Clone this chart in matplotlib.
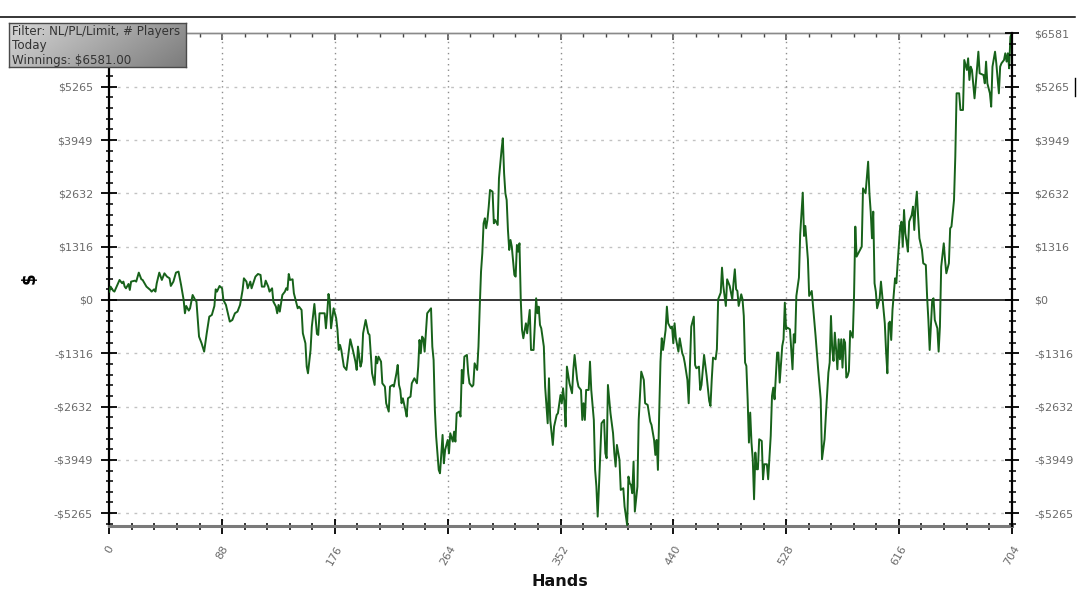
import matplotlib
matplotlib.use('Agg')
import matplotlib.pyplot as plt
import numpy as np
from matplotlib.lines import Line2D
from matplotlib.ticker import MultipleLocator, FixedLocator
from matplotlib.colors import LinearSegmentedColormap

# ---------------- data ----------------
hands = [
    0, 1, 3, 4, 8, 10, 11, 12, 13, 15, 16, 17, 20, 21, 23, 25, 26, 29, 32, 33,
    35, 36, 37, 39, 41, 43, 45, 47, 48, 50, 52, 54, 56, 58, 59, 60, 62, 63, 65, 67,
    68, 70, 72, 74, 76, 78, 80, 82, 83, 84, 86, 88, 89, 91, 94, 96, 98, 100, 102, 104,
    105, 107, 108, 110, 111, 114,
    116, 118, 119, 121, 122, 124, 125, 127, 128, 130,
    131, 132, 133, 135, 137, 138, 139, 140, 141, 143,
    144, 145, 147, 148, 150, 151, 153, 154, 155, 157,
    158, 160, 162, 163, 164, 166, 168, 169, 170, 171,
    172, 173, 175, 176, 177, 178, 179, 180, 181, 183,
    185, 188, 190, 192, 193, 194, 196, 197, 198, 200,
    202, 203, 205, 207, 208, 209, 210, 212, 213, 215,
    216, 218, 219, 221, 222, 224, 225, 226, 227, 228,
    229, 231,
    232, 233, 235, 236, 238, 240, 241, 242, 243, 244,
    245, 246, 248, 249, 251, 252, 253, 254, 255, 257,
    258, 260, 261, 262, 264, 265, 266, 268, 269, 270,
    271, 273, 274, 275, 276, 277, 279, 280, 281, 283,
    284, 285, 287, 288, 289, 290, 291, 292, 293, 294,
    295, 296, 297, 299, 300, 301, 303, 304, 306, 307,
    308, 309, 310, 311, 312, 313, 314, 316, 317, 318,
    319, 320, 321, 322, 323, 325, 326, 328, 329, 331,
    333, 334, 335, 336, 337, 339, 340, 342, 343, 344,
    346, 347,
    349, 350, 352, 353, 354, 355, 356, 357, 358, 359,
    361, 362, 363, 365, 366, 368, 369, 370, 371, 372,
    374, 375, 376, 378, 379, 380, 381, 382, 384, 386,
    387, 388, 389, 391, 393, 394, 395, 396, 398, 399,
    401, 402, 404, 405, 406, 407, 408, 409, 410, 412,
    413, 414, 415, 417, 418, 420, 422, 423, 425, 426,
    427, 428, 429, 430, 431, 432, 434, 435, 436, 438,
    439, 440, 441, 442, 444, 445, 447, 448, 449, 451,
    452, 453, 454, 456, 457, 458, 460, 461, 462, 464,
    466, 468, 469, 470, 471, 473, 474, 475, 477, 478,
    479, 481, 482, 483, 484, 486, 487, 488, 489, 490,
    491, 493, 494, 495, 496, 497, 498, 499, 500, 501,
    502, 503, 504, 505, 506, 507, 509, 510, 511, 513,
    514, 516, 517, 518, 519, 521, 522, 523, 525, 526,
    527, 528, 529, 531, 532, 533, 534, 535, 536, 538,
    539, 541, 542, 543, 545, 546, 548, 549, 551, 553,
    555, 556, 558, 559, 561, 562, 563, 564, 565, 566,
    567, 568, 569, 570, 571, 572, 573, 574, 575, 576,
    577, 578, 580, 581,
    582, 583, 585, 587, 588, 590, 592, 593, 594, 595,
    596, 597, 598, 599, 601, 602, 604, 605, 606, 607,
    608, 609, 610, 611, 613, 614, 615, 617, 618, 619,
    620, 621, 622, 623, 624, 626, 627, 628, 629, 630,
    631, 632, 634, 635, 637, 638, 639, 640, 642, 643,
    644, 646, 647, 648, 649, 651, 652, 653, 655, 656,
    657, 659, 660, 661, 663, 664, 666, 667, 669, 670,
    671, 672, 673, 675, 676, 678, 679, 682, 683, 684,
    685, 687, 688, 689, 691, 692, 694, 695, 696, 698,
    699, 700, 701, 702, 703, 704,
]

winnings = [
    206, 329, 230, 206, 494, 412, 453, 329, 288, 395, 247, 453, 477, 453, 675, 510, 494, 329, 247, 206,
    263, 206, 412, 675, 494, 658, 576, 535, 346, 453, 675, 700, 370, 0, -329, -148, -263, -206, 123, 0,
    -41, -905, -1070, -1276, -823, -412, -370, -148, 263, 206, 346, 288, 0, -123, -535, -494, -329, -288, -123, 247,
    535, 453, 288, 453, 288, 576,
    642, 617, 329, 329, 477, 329, 206, 288, -41, -165,
    -329, -123, -288, 123, 206, 288, 247, 642, 494, 510,
    165, 41, -206, -165, -247, -823, -1070, -1646, -1811, -1235,
    -658, -99, -840, -864, -329, -329, -329, -700, -329, 148,
    -41, -700, -206, -329, -453, -741, -1235, -1111, -1235, -1646,
    -1728, -971, -1235, -1523, -1728, -1152, -1646, -1523, -823, -494,
    -823, -864, -1811, -2099, -1399, -1564, -1399, -1523, -2058, -2140,
    -2551, -2757, -2140, -2099, -2140, -1811, -1605, -2099, -2222, -2551,
    -2428, -2716,
    -2880, -2428, -2387, -2058, -1934, -2058, -1646, -988, -1317, -905,
    -946, -1276, -329, -288, -206, -1152, -1481, -2716, -3374, -4197,
    -4280, -3333, -4033, -3703, -3457, -3786, -3292, -3498, -3251, -3498,
    -2798, -2757, -2880, -1728, -2058, -1399, -1358, -1811, -2058, -2140,
    -2099, -1564, -1728, -1152, -165, 700, 1152, 1893, 2017, 1770,
    1975, 2304, 2716, 2675, 1893, 1975, 1852, 3004, 3704, 3992,
    3127, 2634, 2469, 1728, 1235, 1481, 1317, 617, 576, 1358,
    1193, 1399, 0, -741, -946, -576, -823, -247, -1235, -1235,
    41, -329, -165, -617, -700, -1152, -2140, -3045, -1934, -2963,
    -3580, -3127,
    -2839, -2798, -2346, -2551, -2181, -2510, -3127, -1646, -1852, -2058,
    -2304, -1728, -1358, -1975, -2140, -2222, -2963, -2551, -2963, -2222,
    -2222, -1523, -2222, -2963, -4197, -4609, -5350, -4609, -3045, -2963,
    -3786, -3909, -2099, -2798, -3292, -3786, -4115, -3580, -3950, -4691,
    -4650, -5103, -5560, -4362, -4527, -4568, -4773, -3992, -5226, -4609,
    -2963, -2346, -1770, -1975, -2551, -2592, -3004, -3086, -3457, -3827,
    -3457, -4197, -2798, -1523, -946, -1235, -741, -165, -576, -700,
    -658, -1070, -576, -946, -1276, -946, -1317, -1399, -1564, -1975,
    -2551, -1605, -658, -412, -1605, -1687, -1646, -2222, -2099, -1358,
    -1876, -2494, -2617, -1959, -1424, -1465, -1218, 16, 181, 798,
    346, -148, 510, 428, 346, 16, 428, 757, 263, 222,
    -148, 140, 16, -395, -1547, -1630, -2453, -3522, -2782, -3522,
    -3934, -4922, -3769, -4181, -4181, -3440, -3481, -4428, -4057, -4057,
    -4428, -3358, -2370, -2165, -2453, -1300, -1300, -2041, -1136, -971,
    -66, -724, -683, -724, -1218, -1712, -848, -1053, 99, 551,
    1621, 2650, 1580, 1827, 1004, 99, 222, -148, -889, -1712,
    -2453, -3934, -3440, -2864, -1794, -1547, -395, -1218, -1506, -807,
    -1218, -1712, -971, -1465, -971, -1671, -971, -1053, -1918, -1876,
    -1753, -765, -930, 99,
    1811, 1070, 1193, 1317, 2757, 2634, 3415, 2634, 2181, 1523,
    2181, 412, 206, -206, 41, 453, -247, -576, -1276, -1811,
    -576, -535, -988, -247, 535, 412, 905, 1811, 1934, 1317,
    2222, 1646, 1440, 1193, 1934, 2099, 2304, 1728, 2346, 2675,
    2058, 1523, 1235, 905, 864, 82, -494, -1235, 0, 41,
    -494, -700, -1276, -658, 823, 1399, 988, 658, 905, 1770,
    1811, 2469, 3539, 5103, 5103, 4691, 4691, 5926, 5679, 5967,
    5432, 5761, 5679, 4979, 5350, 6131, 5597, 5555, 5350, 5885,
    5350, 5103, 4773, 5761, 6131, 5843, 5103, 5761, 5843, 5926,
    6091, 5885, 6091, 5720, 6500, 6581,
]
assert len(hands) == len(winnings)

x_tick_values = [0, 88, 176, 264, 352, 440, 528, 616, 704]
x_tick_labels = ['0', '88', '176', '264', '352', '440', '528', '616', '704']
y_step = 6581 / 5
y_tick_values = [k * y_step for k in range(-4, 6)]
y_tick_labels = ['-$5265', '-$3949', '-$2632', '-$1316', '$0',
                 '$1316', '$2632', '$3949', '$5265', '$6581']
legend_lines = ['Filter: NL/PL/Limit, # Players', 'Today', 'Winnings: $6581.00']

# ---------------- figure ----------------
W, H = 1077, 591
fig = plt.figure(figsize=(W / 100, H / 100), dpi=100)
fig.patch.set_facecolor('white')
L, R, T, B = 109.3, 1011.7, 33.3, 526.0
ax = fig.add_axes([L / W, 1 - B / H, (R - L) / W, (B - T) / H])
YLIM = (-5582, 6585)
ax.set_xlim(0, 704)
ax.set_ylim(*YLIM)

# grid
for yv in y_tick_values:
    if abs(yv) > 1 and yv < 6500:
        ax.axhline(yv, color='#c2c2c2', lw=1.0, ls=(0, (2, 4)), zorder=1)
for xv in x_tick_values[1:-1]:
    ax.axvline(xv, color='#8c8c8c', lw=1.0, ls=(0, (1, 3)), zorder=1)
ax.axhline(0, color='black', lw=1.1, zorder=2)

ax.plot(hands, winnings, color='#17621a', lw=1.4, zorder=3)

# ticks
px = 0.72
lab_color = '#6a6a6a'
ax.yaxis.set_major_locator(FixedLocator(y_tick_values))
# the top label on the left is hidden behind the filter box in the reference
ax.set_yticklabels(y_tick_labels[:-1] + [''])
ax.yaxis.set_minor_locator(MultipleLocator(y_step / 5))
ax.xaxis.set_major_locator(FixedLocator(x_tick_values))
ax.set_xticklabels(x_tick_labels, rotation=60, ha='center', va='top')
ax.xaxis.set_minor_locator(MultipleLocator(17.6))

ax.tick_params(axis='y', which='major', direction='inout', length=16 * px, width=1.3,
               left=True, right=False, labelleft=True, labelright=False,
               labelsize=8, labelcolor=lab_color, pad=6)
ax.tick_params(axis='y', which='minor', direction='inout', length=7 * px, width=1.1,
               left=True, right=False)
ax.tick_params(axis='x', which='major', direction='inout', length=15 * px, width=1.3,
               bottom=True, top=False, labelsize=8, labelcolor=lab_color, pad=7.5)
ax.tick_params(axis='x', which='minor', direction='inout', length=7 * px, width=1.1,
               bottom=True, top=False)

# right axis (same scale, own label padding)
ax2 = ax.twinx()
ax2.set_ylim(*YLIM)
ax2.yaxis.set_major_locator(FixedLocator(y_tick_values))
ax2.set_yticklabels(y_tick_labels)
ax2.yaxis.set_minor_locator(MultipleLocator(y_step / 5))
ax2.tick_params(axis='y', which='major', direction='inout', length=14 * px, width=1.3,
                labelsize=8, labelcolor=lab_color, pad=11)
ax2.tick_params(axis='y', which='minor', direction='inout', length=7 * px, width=1.1)
for s in ['left', 'top', 'bottom']:
    ax2.spines[s].set_visible(False)
ax2.spines['right'].set_color('black')
ax2.spines['right'].set_linewidth(1.6)

sec = ax.secondary_xaxis('top')
sec.xaxis.set_major_locator(FixedLocator(x_tick_values))
sec.xaxis.set_minor_locator(MultipleLocator(17.6))
sec.tick_params(axis='x', which='major', direction='in', length=7 * px, width=1.1,
                labeltop=False, color='#444444')
sec.tick_params(axis='x', which='minor', direction='in', length=4 * px, width=1.0,
                color='#444444')
sec.spines['top'].set_color('#8a8a8a')
sec.spines['top'].set_linewidth(1.0)

ax.spines['left'].set_color('black')
ax.spines['left'].set_linewidth(1.6)
ax.spines['right'].set_visible(False)
ax.spines['bottom'].set_color('#7a7a7a')
ax.spines['bottom'].set_linewidth(2.2)
ax.spines['top'].set_color('#8a8a8a')
ax.spines['top'].set_linewidth(1.0)

# axis titles
fig.text(30 / W, 1 - 278 / H, '$', rotation=90, fontsize=12, fontweight='bold',
         ha='center', va='center', color='black')
fig.text(560 / W, 1 - 586.5 / H, 'Hands', fontsize=11.5, fontweight='bold',
         ha='center', va='baseline', color='#111111')

# top rule and small mark
fig.add_artist(Line2D([0, 1075 / W], [1 - 16.7 / H] * 2, color='black', lw=1.1))
fig.add_artist(Line2D([1074.5 / W] * 2, [1 - 78 / H, 1 - 96 / H], color='black', lw=1.0))

# legend box with gradient
bx0, bx1, by0, by1 = 9.3, 185.7, 23.3, 66.7
lax = fig.add_axes([bx0 / W, 1 - by1 / H, (bx1 - bx0) / W, (by1 - by0) / H])
lax.set_zorder(5)
gx, gy = np.meshgrid(np.linspace(0, 1, 200), np.linspace(0, 1, 50))
grad = 0.75 * gx + 0.25 * gy
cmap = LinearSegmentedColormap.from_list('g', ['#d6d6d6', '#7c7c7c'])
lax.imshow(grad, aspect='auto', cmap=cmap, extent=[0, 1, 0, 1], origin='upper')
lax.set_xticks([])
lax.set_yticks([])
for s in lax.spines.values():
    s.set_color('#4a4a4a')
    s.set_linewidth(1.0)
fig.text(11.5 / W, 1 - 25.0 / H, '\n'.join(legend_lines), fontsize=8.6, color='#333333',
         ha='left', va='top', linespacing=1.13, zorder=10)

fig.savefig('out.png', dpi=100)
